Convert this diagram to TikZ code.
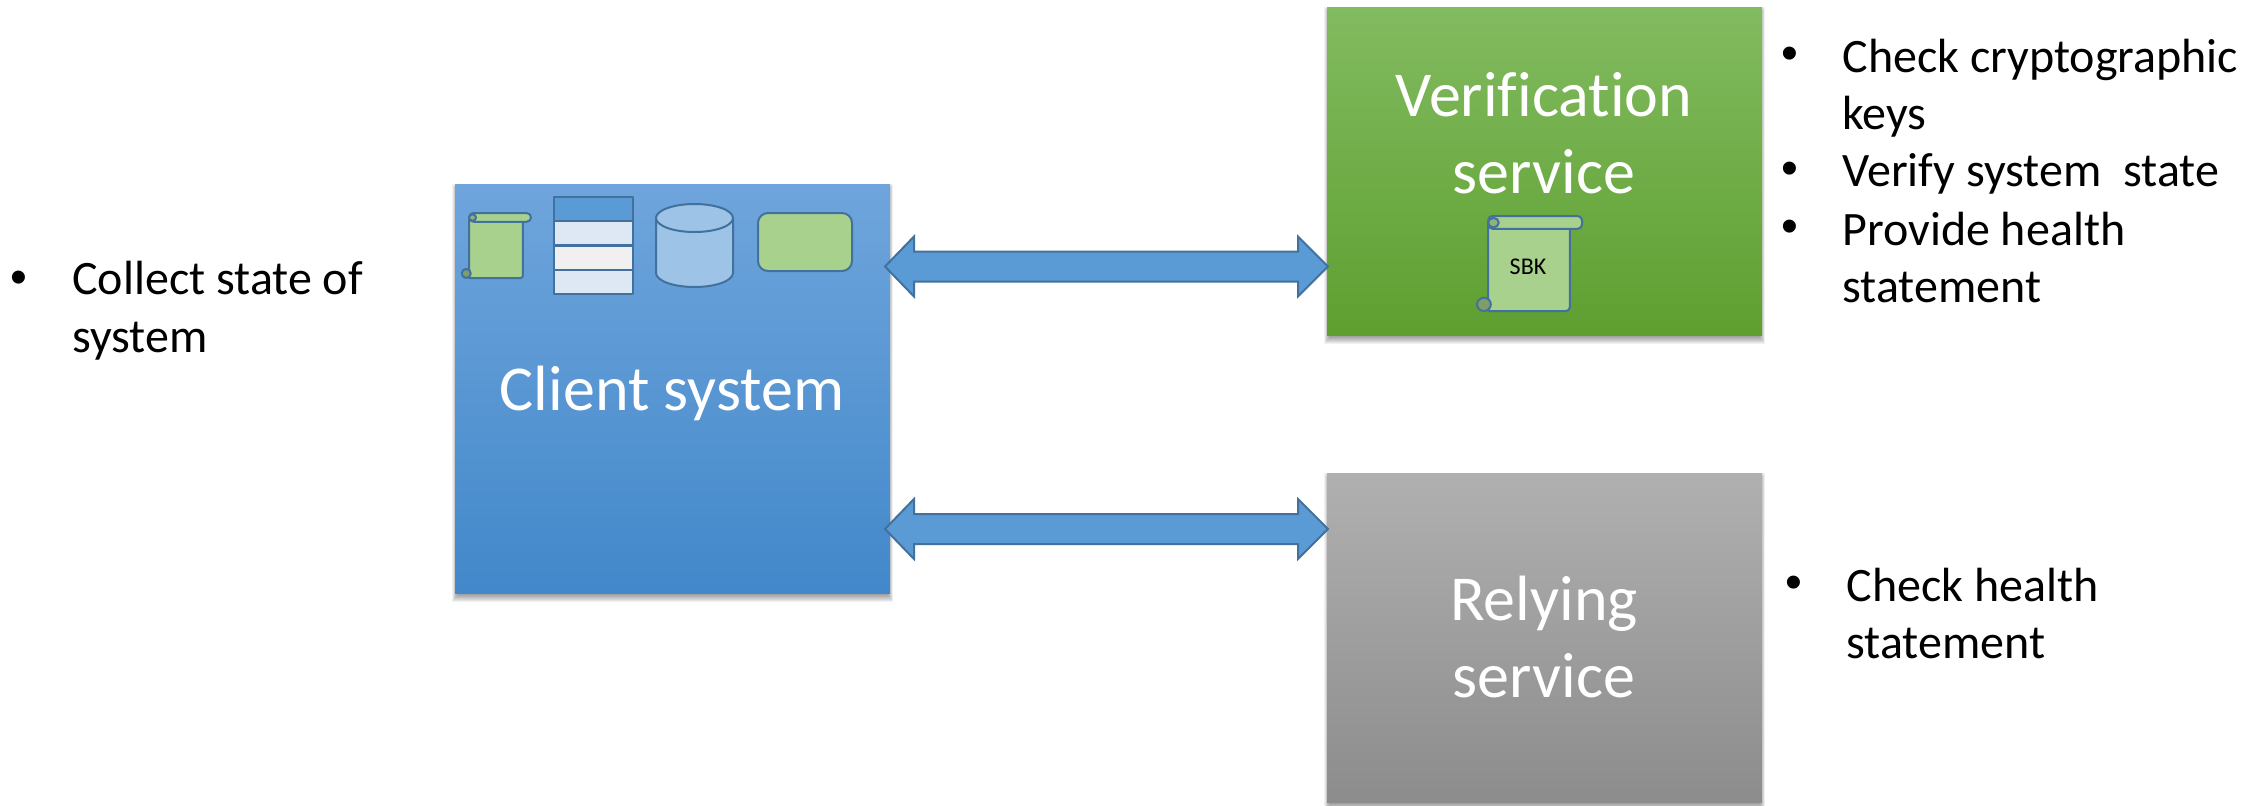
\documentclass[tikz,border=0pt]{standalone}
\usepackage{fontspec}
\setmainfont{Carlito}[RawFeature={-liga;-clig}]
\newfontfamily\bulletfont{Liberation Sans}
\usetikzlibrary{calc,positioning}
\definecolor{edgeblue}{HTML}{41719C}
\definecolor{arrowblue}{HTML}{5B9BD5}
\definecolor{leaf}{HTML}{A9D18E}
\definecolor{cyl}{HTML}{9DC3E6}
\definecolor{rowa}{HTML}{DEE8F4}
\definecolor{rowb}{HTML}{F0F0F0}
\tikzset{
  x=0.5pt,y=-0.5pt,
  bigbox/.style={inner sep=0pt,outer sep=0pt,anchor=north west},
  bigtext/.style={inner sep=0pt,outer sep=0pt,text=white,font=\fontsize{32}{38.5}\selectfont,align=center},
  soft/.style={fill=black,opacity=0.055,draw=none},
  icon/.style={draw=edgeblue,line width=1pt,line join=round},
  tablerow/.style={icon,minimum width=39.5pt,minimum height=12.2pt,inner sep=0pt,outer sep=0pt,anchor=north west},
  darrow/.style={draw=edgeblue,line width=1pt,fill=arrowblue,line join=miter},
  bullettext/.style={inner sep=0pt,anchor=north west,align=left,font=\fontsize{24}{28.85}\selectfont},
  bulletmark/.style={inner sep=0pt,anchor=center,font=\bulletfont\fontsize{24}{28.85}\selectfont},
}
% soft shadow under a box: corners x1,y1,x2,y2 in pixels
\newcommand{\softshadow}[4]{%
  \foreach \g in {0,1,...,7}{
    \fill[soft] ({#1-3+0.75*\g},{#2+\g}) rectangle ({#3+3-0.75*\g},{#4+9-\g});
  }}
% double block arrow between two named coordinates
\newcommand{\blockarrow}[2]{%
  \draw[darrow] (#1) -- ($(#1)+(29,-30)$) -- ($(#1)+(29,-15)$) -- ($(#2)+(-30,-15)$) -- ($(#2)+(-30,-30)$)
    -- (#2) -- ($(#2)+(-30,30)$) -- ($(#2)+(-30,15)$) -- ($(#1)+(29,15)$) -- ($(#1)+(29,30)$) -- cycle;}
% scroll icon; x,y top left in pixels, w,h sizes in pt
\newcommand{\scrollicon}[4]{%
  \begin{scope}[shift={(#1,#2)},x=#3pt,y=-#4pt]
    \draw[icon,fill=leaf] (0.115,0.06) -- (0.115,0.93) -- (0.115,1) -- (0.85,1) to[out=0,in=270] (0.885,0.96) -- (0.885,0.10) -- cycle;
    \draw[icon,fill=leaf,rounded corners=2.2pt] (0.115,0) rectangle (1,0.135);
    \draw[icon,fill=leaf!75!black] (0.075,0.93) ellipse[x radius=0.065,y radius=0.07];
    \draw[icon,fill=leaf!85!black] (0.165,0.07) ellipse[x radius=0.05,y radius=0.05];
  \end{scope}}
\begin{document}
\begin{tikzpicture}
\useasboundingbox (0,0) rectangle (2261,805);
\softshadow{455}{184}{890}{593}
\softshadow{1327}{7}{1762}{335}
\softshadow{1327}{473}{1762}{802}
% boxes
\node[bigbox,minimum width=217.5pt,minimum height=204.5pt,shade,top color={rgb,255:red,111;green,165;blue,220},bottom color={rgb,255:red,66;green,136;blue,202}] (client) at (455,184) {};
\node[bigbox,minimum width=217.5pt,minimum height=164pt,shade,top color={rgb,255:red,130;green,187;blue,96},bottom color={rgb,255:red,94;green,159;blue,48}] (verif) at (1327,7) {};
\node[bigbox,minimum width=217.5pt,minimum height=164.5pt,shade,top color={rgb,255:red,176;green,176;blue,176},bottom color={rgb,255:red,140;green,140;blue,140}] (rely) at (1327,473) {};
\node[bigtext] (clientt) at (672,393) {Client system};
\node[bigtext] (verift) at (1544,133.5) {Verification\\service};
\node[bigtext] (relyt) at (1544,637) {Relying\\service};
% arrows
\coordinate (a1l) at (885,266.5);
\coordinate (a1r) at (1328,266.5);
\coordinate (a2l) at (885,529);
\coordinate (a2r) at (1328,529);
\blockarrow{a1l}{a1r}
\blockarrow{a2l}{a2r}
% client icons
\scrollicon{461}{213}{35}{32.5}
\node[tablerow,fill=arrowblue] (t1) at (554,197) {};
\node[tablerow,fill=rowa] (t2) at (554,221) {};
\node[tablerow,fill=rowb] (t3) at (554,246) {};
\node[tablerow,fill=rowa] (t4) at (554,270) {};
\draw[icon,fill=cyl] (656,218) -- (656,273) arc[start angle=180,end angle=360,x radius=19.25pt,y radius=7pt] -- (733,218) -- cycle;
\draw[icon,fill=cyl] (694.5,218) ellipse[x radius=19.25pt,y radius=7pt];
\node[icon,fill=leaf,rounded corners=5pt,minimum width=47pt,minimum height=29pt,inner sep=0pt,outer sep=0pt,anchor=north west] (rr) at (758,213) {};
% verification scroll
\scrollicon{1476}{216}{53}{47.5}
\node[inner sep=0pt,font=\fontsize{12}{14}\selectfont] (sbk) at (1528,267) {SBK};
% bullet lists
\node[bulletmark] (b0) at (19,282) {•};
\node[bullettext] (l0) at (72,261) {Collect state of\\system};
\node[bulletmark] (b1) at (1790,58) {•};
\node[bullettext] (l1) at (1842,38.5) {Check cryptographic\\keys};
\node[bulletmark] (b2) at (1790,173) {•};
\node[bullettext] (l2) at (1842,153.5) {Verify system\ \ state};
\node[bulletmark] (b3) at (1790,231) {•};
\node[bullettext] (l3) at (1842,211.5) {Provide health\\statement};
\node[bulletmark] (b4) at (1794,587) {•};
\node[bullettext] (l4) at (1846,567.5) {Check health\\statement};
\end{tikzpicture}
\end{document}
